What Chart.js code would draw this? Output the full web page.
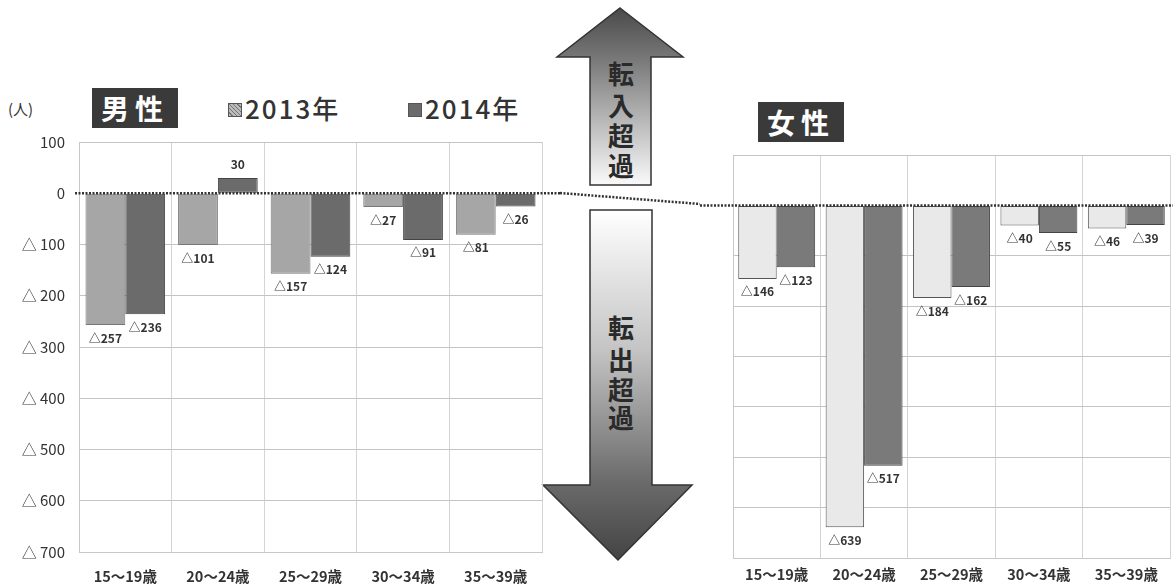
<!DOCTYPE html>
<html>
<head>
<meta charset="utf-8">
<script src="https://cdn.jsdelivr.net/npm/chart.js@4"></script>
<style>
  html, body { margin: 0; padding: 0; background: #fff; }
  body { width: 1173px; height: 587px; position: relative; overflow: hidden;
         font-family: 'Noto Sans CJK JP', sans-serif; color: #333; }
  .abs { position: absolute; }
  #maleBox { position: absolute; left: 0; top: 130px; width: 560px; height: 457px; }
  #femaleBox { position: absolute; left: 700px; top: 140px; width: 473px; height: 447px; }
  .title { background: #3a3a3a; color: #fff; font-weight: bold; font-size: 28px;
           letter-spacing: 6px; text-align: center; line-height: 40px; height: 40px; }
  .legend { font-size: 26px; font-weight: 500; letter-spacing: 2px; line-height: 30px; }
  .swatch { display: inline-block; width: 12px; height: 12px; margin-right: 3px;
            vertical-align: 2px; border: 1px solid #555; }
</style>
</head>
<body>
<div class="abs" style="left:8px;top:98px;font-size:15px;">(人)</div>
<div class="abs title" style="left:92px;top:88px;width:86px;">男性</div>
<div class="abs legend" style="left:228px;top:93px;">
  <span class="swatch" style="background:repeating-linear-gradient(45deg,#bbb 0 2px,#777 2px 3px);"></span>2013年
</div>
<div class="abs legend" style="left:408px;top:93px;">
  <span class="swatch" style="background:#6b6b6b;border-color:#555;"></span>2014年
</div>
<div class="abs title" style="left:758px;top:102px;width:86px;">女性</div>

<svg class="abs" style="left:0;top:0;" width="1173" height="587">
  <defs>
    <linearGradient id="upG" gradientUnits="userSpaceOnUse" x1="0" y1="8" x2="0" y2="185">
      <stop offset="0" stop-color="#4a4a4a"/>
      <stop offset="0.3" stop-color="#7a7a7a"/>
      <stop offset="1" stop-color="#fafafa"/>
    </linearGradient>
    <linearGradient id="downG" gradientUnits="userSpaceOnUse" x1="0" y1="210" x2="0" y2="560">
      <stop offset="0" stop-color="#ffffff"/>
      <stop offset="0.4" stop-color="#c4c4c4"/>
      <stop offset="0.78" stop-color="#6a6a6a"/>
      <stop offset="1" stop-color="#444"/>
    </linearGradient>
  </defs>
  <polygon points="620,8 683,57 651,57 651,185 590,185 590,57 557,57"
           fill="url(#upG)" stroke="#333" stroke-width="1.5"/>
  <polygon points="590,210 652,210 652,485 692,485 618,560 543,485 590,485"
           fill="url(#downG)" stroke="#333" stroke-width="1.5"/>
  <g font-family="'Noto Sans CJK JP', sans-serif" font-weight="bold" font-size="26"
     fill="#2a2a2a" text-anchor="middle">
    <text x="621" y="84">転</text>
    <text x="621" y="116">入</text>
    <text x="621" y="146">超</text>
    <text x="621" y="176">過</text>
    <text x="621" y="338">転</text>
    <text x="621" y="370">出</text>
    <text x="621" y="400">超</text>
    <text x="621" y="428">過</text>
  </g>
  <line x1="560" y1="193" x2="700" y2="204" stroke="#333" stroke-width="2.5"
        stroke-dasharray="2 1.5"/>
</svg>

<div id="maleBox"><canvas id="maleChart"></canvas></div>
<div id="femaleBox"><canvas id="femaleChart"></canvas></div>

<script>
const ageGroups = ['15〜19歳', '20〜24歳', '25〜29歳', '30〜34歳', '35〜39歳'];
const seriesNames = ['2013年', '2014年'];
const male2013 = [-257, -101, -157, -27, -81];
const male2014 = [-236, 30, -124, -91, -26];
const female2013 = [-146, -639, -184, -40, -46];
const female2014 = [-123, -517, -162, -55, -39];
const yMin = -700;
const yMax = 100;
const yStep = 100;

const fontFamily = "'Noto Sans CJK JP', sans-serif";

function fmt(v) {
    return v < 0 ? '△' + Math.abs(v) : String(v);
}

// value labels on bar ends + dotted zero line
const barLabels = {
    id: 'barLabels',
    afterDatasetsDraw(chart, args, opts) {
        const ctx = chart.ctx;
        const y0 = chart.scales.y.getPixelForValue(0);
        ctx.save();
        ctx.strokeStyle = '#333';
        ctx.lineWidth = 2.5;
        ctx.setLineDash([2, 1.5]);
        ctx.beginPath();
        ctx.moveTo(opts.lineFrom === 'edge' ? 0 : chart.chartArea.left - 4, y0);
        ctx.lineTo(chart.width, y0);
        ctx.stroke();
        ctx.setLineDash([]);

        ctx.font = 'bold ' + opts.size + 'px ' + fontFamily;
        ctx.fillStyle = '#333';
        ctx.textAlign = 'center';
        ctx.textBaseline = 'middle';
        chart.data.datasets.forEach((ds, i) => {
            chart.getDatasetMeta(i).data.forEach((bar, j) => {
                const v = ds.data[j];
                const y = v < 0 ? bar.y + 13 : bar.y - 13;
                ctx.fillText(fmt(v), bar.x, y);
            });
        });
        ctx.restore();
    }
};

function makeChart(id, d2013, d2014, o) {
    return new Chart(document.getElementById(id), {
        type: 'bar',
        data: {
            labels: ageGroups,
            datasets: [{
                label: seriesNames[0],
                data: d2013,
                backgroundColor: o.c2013,
                borderColor: o.b2013,
                borderWidth: 1,
                borderSkipped: false
            }, {
                label: seriesNames[1],
                data: d2014,
                backgroundColor: o.c2014,
                borderColor: o.b2014,
                borderWidth: 1,
                borderSkipped: false
            }]
        },
        options: {
            responsive: true,
            maintainAspectRatio: false,
            animation: false,
            layout: { padding: o.padding },
            datasets: {
                bar: { categoryPercentage: o.catPct, barPercentage: 1.0 }
            },
            plugins: {
                legend: { display: false },
                tooltip: { enabled: false },
                barLabels: { size: o.labelSize, lineFrom: o.lineFrom }
            },
            scales: {
                x: {
                    grid: { color: '#d4d4d4', drawTicks: false },
                    border: { color: '#c8c8c8' },
                    ticks: {
                        padding: o.xPad,
                        color: '#333',
                        font: { family: fontFamily, size: 14.5, weight: 'bold' }
                    },
                    afterFit(scale) { scale.height = o.xHeight; }
                },
                y: {
                    min: yMin,
                    max: yMax,
                    grid: {
                        drawTicks: false,
                        color: ctx => ctx.tick && ctx.tick.value === 0 ? 'rgba(0,0,0,0)' : '#c4c4c4'
                    },
                    border: { color: '#c8c8c8' },
                    ticks: {
                        display: o.yLabels,
                        stepSize: yStep,
                        padding: 14,
                        color: '#333',
                        font: { family: fontFamily, size: 15 },
                        callback: v => v < 0 ? '△ ' + Math.abs(v) : v
                    },
                    afterFit(scale) {
                        scale.width = o.yWidth;
                        scale.paddingTop = 0;
                        scale.paddingBottom = 0;
                    }
                }
            }
        },
        plugins: [barLabels]
    });
}

makeChart('maleChart', male2013, male2014, {
    c2013: '#a6a6a6', b2013: '#777', c2014: '#6b6b6b', b2014: '#444',
    catPct: 0.86, labelSize: 12, lineFrom: 'area',
    padding: { top: 12, right: 18, left: 0, bottom: 0 },
    xHeight: 35, xPad: 16, yWidth: 79, yLabels: true
});

makeChart('femaleChart', female2013, female2014, {
    c2013: '#e9e9e9', b2013: '#555', c2014: '#7a7a7a', b2014: '#444',
    catPct: 0.88, labelSize: 12, lineFrom: 'edge',
    padding: { top: 15, right: 3, left: 0, bottom: 0 },
    xHeight: 29, xPad: 8, yWidth: 33, yLabels: false
});
</script>
</body>
</html>
